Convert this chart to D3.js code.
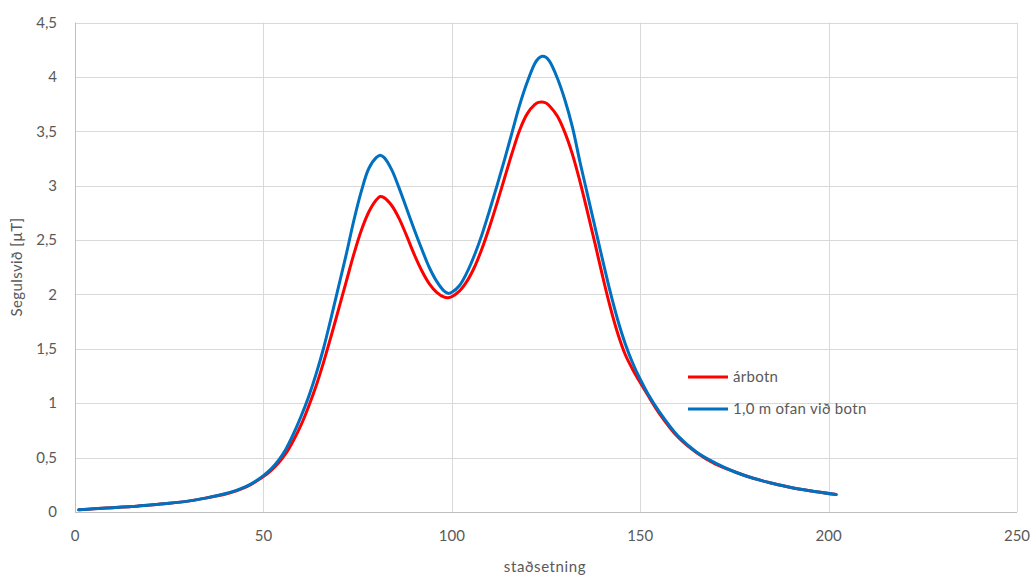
<!DOCTYPE html>
<html>
<head>
<meta charset="utf-8">
<script src="https://cdn.jsdelivr.net/npm/d3@7"></script>
<style>
  html, body { margin: 0; padding: 0; background: #fff; }
  svg { display: block; }
  text { font-family: Lato, "Open Sans", sans-serif; fill: #595959; }
</style>
</head>
<body>
<svg id="chart" width="1032" height="577"></svg>
<script>
// ---- data ----
const xPos = [1, 5, 10, 15, 20, 25, 30, 35, 40, 42, 44, 46, 48, 50, 52, 54, 56, 58, 60, 62, 64, 66, 68, 70, 72, 74, 76, 78, 80, 81, 82, 84, 86, 88, 90, 92, 94, 96, 98, 99, 100, 102, 104, 106, 108, 110, 112, 114, 116, 118, 120, 122, 123, 124, 125, 126, 128, 130, 132, 134, 136, 138, 140, 142, 144, 146, 148, 150, 152, 155, 160, 165, 170, 175, 180, 185, 190, 195, 202];
const arbotn = [0.02, 0.03, 0.04, 0.05, 0.065, 0.08, 0.10, 0.13, 0.165, 0.185, 0.21, 0.24, 0.28, 0.325, 0.38, 0.45, 0.54, 0.66, 0.80, 0.97, 1.16, 1.38, 1.62, 1.87, 2.12, 2.37, 2.59, 2.76, 2.87, 2.90, 2.89, 2.82, 2.70, 2.54, 2.37, 2.22, 2.10, 2.02, 1.975, 1.97, 1.98, 2.03, 2.12, 2.25, 2.42, 2.62, 2.84, 3.07, 3.30, 3.51, 3.66, 3.745, 3.765, 3.77, 3.76, 3.73, 3.64, 3.49, 3.29, 3.04, 2.76, 2.47, 2.17, 1.89, 1.645, 1.45, 1.31, 1.19, 1.075, 0.91, 0.69, 0.545, 0.44, 0.37, 0.31, 0.265, 0.225, 0.195, 0.16];
const ofan = [0.02, 0.03, 0.04, 0.05, 0.065, 0.08, 0.10, 0.13, 0.17, 0.19, 0.215, 0.245, 0.285, 0.335, 0.395, 0.475, 0.58, 0.72, 0.88, 1.06, 1.27, 1.51, 1.79, 2.08, 2.37, 2.68, 2.95, 3.16, 3.26, 3.28, 3.26, 3.15, 2.98, 2.79, 2.60, 2.42, 2.25, 2.12, 2.03, 2.01, 2.02, 2.08, 2.20, 2.36, 2.55, 2.77, 3.00, 3.24, 3.49, 3.74, 3.95, 4.12, 4.17, 4.19, 4.18, 4.14, 3.99, 3.79, 3.54, 3.22, 2.92, 2.62, 2.32, 2.03, 1.77, 1.55, 1.37, 1.22, 1.09, 0.925, 0.70, 0.55, 0.45, 0.37, 0.31, 0.265, 0.225, 0.195, 0.16];
const seriesNames = ["árbotn", "1,0 m ofan við botn"];
const xTicks = [0, 50, 100, 150, 200, 250];
const yTicks = [0, 0.5, 1, 1.5, 2, 2.5, 3, 3.5, 4, 4.5];
const xTitle = "staðsetning";
const yTitle = "Segulsvið [µT]";

// ---- layout ----
const svg = d3.select("#chart");
const L = 75, R = 1017, T = 22.5, B = 512;
const x = d3.scaleLinear().domain([0, 250]).range([L, R]);
const y = d3.scaleLinear().domain([0, 4.5]).range([B, T]);
const fmt = v => String(v).replace(".", ",");

// gridlines
svg.append("g").selectAll("line").data(yTicks.filter(d => d > 0)).join("line")
  .attr("x1", L).attr("x2", R)
  .attr("y1", d => Math.round(y(d)) + 0.5).attr("y2", d => Math.round(y(d)) + 0.5)
  .attr("stroke", "#d9d9d9").attr("stroke-width", 1);
svg.append("g").selectAll("line").data(xTicks.filter(d => d > 0)).join("line")
  .attr("y1", T).attr("y2", B)
  .attr("x1", d => Math.round(x(d)) + 0.5).attr("x2", d => Math.round(x(d)) + 0.5)
  .attr("stroke", "#d9d9d9").attr("stroke-width", 1);

// axes lines
svg.append("line").attr("x1", L + 0.5).attr("x2", L + 0.5).attr("y1", T).attr("y2", B + 0.5)
  .attr("stroke", "#bfbfbf");
svg.append("line").attr("x1", L).attr("x2", R).attr("y1", B + 0.5).attr("y2", B + 0.5)
  .attr("stroke", "#bfbfbf");

// tick labels
svg.append("g").selectAll("text").data(yTicks).join("text")
  .attr("x", 57).attr("y", d => y(d)).attr("dy", "0.35em")
  .attr("text-anchor", "end").attr("font-size", 15).text(fmt);
svg.append("g").selectAll("text").data(xTicks).join("text")
  .attr("x", d => x(d)).attr("y", 541)
  .attr("text-anchor", "middle").attr("font-size", 15).text(fmt);

// titles
svg.append("text").attr("x", 545).attr("y", 572).attr("text-anchor", "middle")
  .attr("font-size", 15).attr("letter-spacing", 0.6).text(xTitle);
svg.append("text").attr("transform", "translate(22,267) rotate(-90)")
  .attr("text-anchor", "middle").attr("font-size", 15).attr("letter-spacing", 0.4).text(yTitle);

// lines
const line = vals => d3.line().x((d, i) => x(xPos[i])).y(d => y(d)).curve(d3.curveCatmullRom.alpha(0.5))(vals);
const colors = ["#ff0000", "#0070c0"];
[arbotn, ofan].forEach((vals, i) => {
  svg.append("path").attr("d", line(vals)).attr("fill", "none")
    .attr("stroke", colors[i]).attr("stroke-width", 3).attr("stroke-linejoin", "round")
    .attr("stroke-linecap", "round");
});

// legend
const lg = svg.append("g");
seriesNames.forEach((name, i) => {
  const ly = 377 + i * 32;
  lg.append("line").attr("x1", 688).attr("x2", 728).attr("y1", ly).attr("y2", ly)
    .attr("stroke", colors[i]).attr("stroke-width", 3);
  lg.append("text").attr("x", 733).attr("y", ly).attr("dy", "0.35em")
    .attr("font-size", 15).attr("letter-spacing", 0.3).text(name);
});
</script>
</body>
</html>
